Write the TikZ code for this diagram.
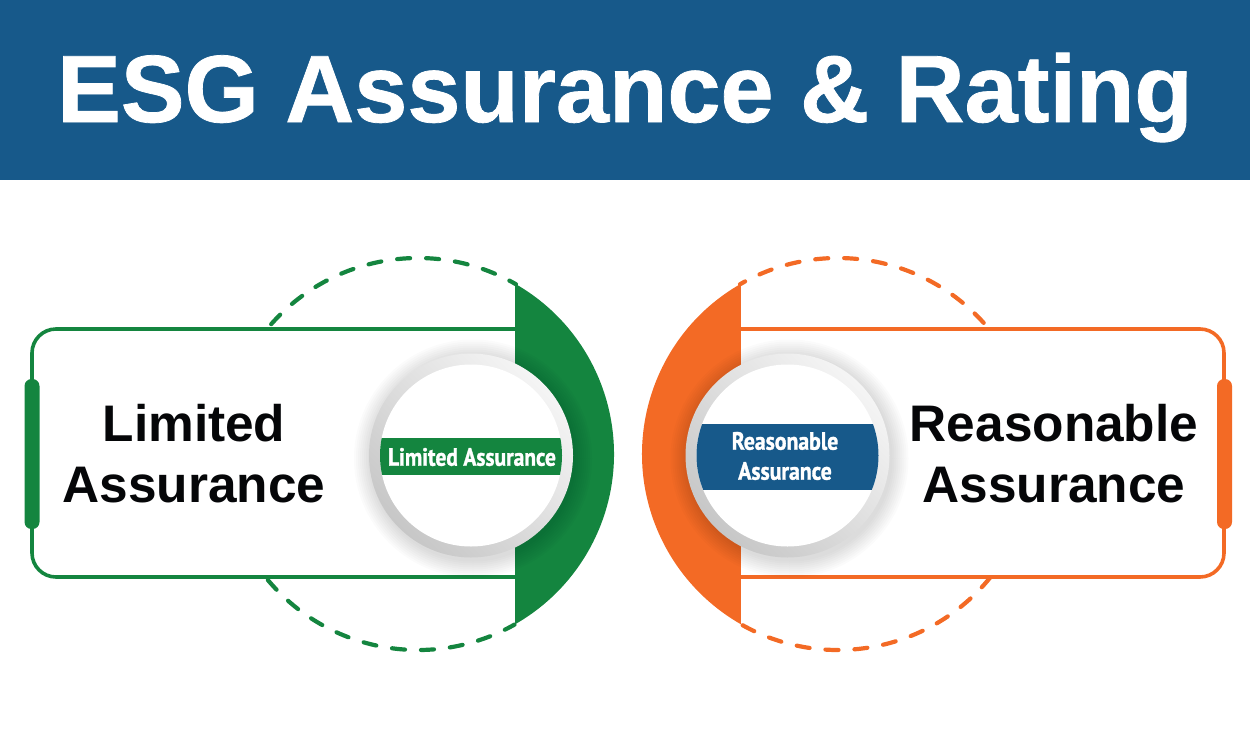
\documentclass[tikz,border=0pt]{standalone}
\usetikzlibrary{calc}
\usepackage{fontspec}
\setmainfont{Liberation Sans}
\newfontfamily\titlefont{Liberation Sans}[BoldFeatures={FakeBold=0.8}]
\newfontfamily\bandfont{PT Sans}[BoldFeatures={FakeBold=1.5}]
\definecolor{esgblue}{HTML}{17598A}
\definecolor{esggreen}{HTML}{14853F}
\definecolor{esgorange}{HTML}{F36A25}
\definecolor{esgblack}{HTML}{050608}
\tikzset{
  titletext/.style={white, font=\titlefont\fontsize{95.5}{98}\selectfont\bfseries, anchor=base},
  sidetext/.style={esgblack, font=\fontsize{51.4}{61}\selectfont\bfseries, align=center, inner sep=0pt},
  bandtext/.style={white, font=\bandfont\fontsize{25}{30}\selectfont\bfseries, align=center, inner sep=0pt},
  dashline/.style={line width=4.2pt, line cap=round, dash pattern=on 13pt off 16pt},
}
\begin{document}
\begin{tikzpicture}[x=1pt,y=-1pt]
\useasboundingbox (0,0) rectangle (1250,729);
\fill[esgblue] (0,0) rectangle (1250,180);
\node[titletext] (title) at (625,122) {ESG Assurance \& Rating};

% limited side
\coordinate (gc) at (418,454);
\draw[esggreen, line width=3.6pt, rounded corners=24pt] (516,329) -- (32,329) -- (32,577) -- (516,577);
\draw[esggreen, dashline] (gc) ++(221.5:196) arc (221.5:300:196);
\draw[esggreen, dashline] (gc) ++(140:196) arc (140:60.5:196);
\fill[esggreen] (gc) ++(-60.3:196) arc (-60.3:60.3:196) -- cycle;
\fill[esggreen, rounded corners=7pt] (24.5,379) rectangle (39.5,529);
\node[sidetext] (limited) at (194,454) {Limited\\Assurance};

\coordinate (gl) at (471,455.5);
\foreach \r in {103,105,...,119}
  \fill[black, opacity=.016] ($(gl)+(2,3)$) circle (\r);
\shade[left color=white!96!black, right color=black!22!white, shading angle=-45] (gl) circle (102);
\fill[white] (gl) circle (91);
\begin{scope}
  \clip (gl) circle (91);
  \fill[esggreen] (370,438) rectangle (572,475);
\end{scope}
\node[bandtext] (limitedband) at (472,457) {\scalebox{.86}[1]{Limited Assurance}};

% reasonable side
\coordinate (oc) at (838,454);
\draw[esgorange, line width=3.6pt, rounded corners=24pt] (740,329) -- (1224,329) -- (1224,577) -- (740,577);
\draw[esgorange, dashline] (oc) ++(318:196) arc (318:240:196);
\draw[esgorange, dashline] (oc) ++(39:196) arc (39:119.5:196);
\fill[esgorange] (oc) ++(240.3:196) arc (240.3:119.7:196) -- cycle;
\fill[esgorange, rounded corners=7pt] (1217,379) rectangle (1232,529);
\node[sidetext] (reasonable) at (1054,454) {Reasonable\\Assurance};

\coordinate (ol) at (787.5,455.5);
\foreach \r in {103,105,...,119}
  \fill[black, opacity=.016] ($(ol)+(2,3)$) circle (\r);
\shade[left color=white!96!black, right color=black!22!white, shading angle=-45] (ol) circle (102);
\fill[white] (ol) circle (91);
\begin{scope}
  \clip (ol) circle (91);
  \fill[esgblue] (686,424) rectangle (889,490);
\end{scope}
\node[bandtext] (reasonableband) at (785,456) {\scalebox{.87}[1]{Reasonable}\\\scalebox{.87}[1]{Assurance}};
\end{tikzpicture}
\end{document}
